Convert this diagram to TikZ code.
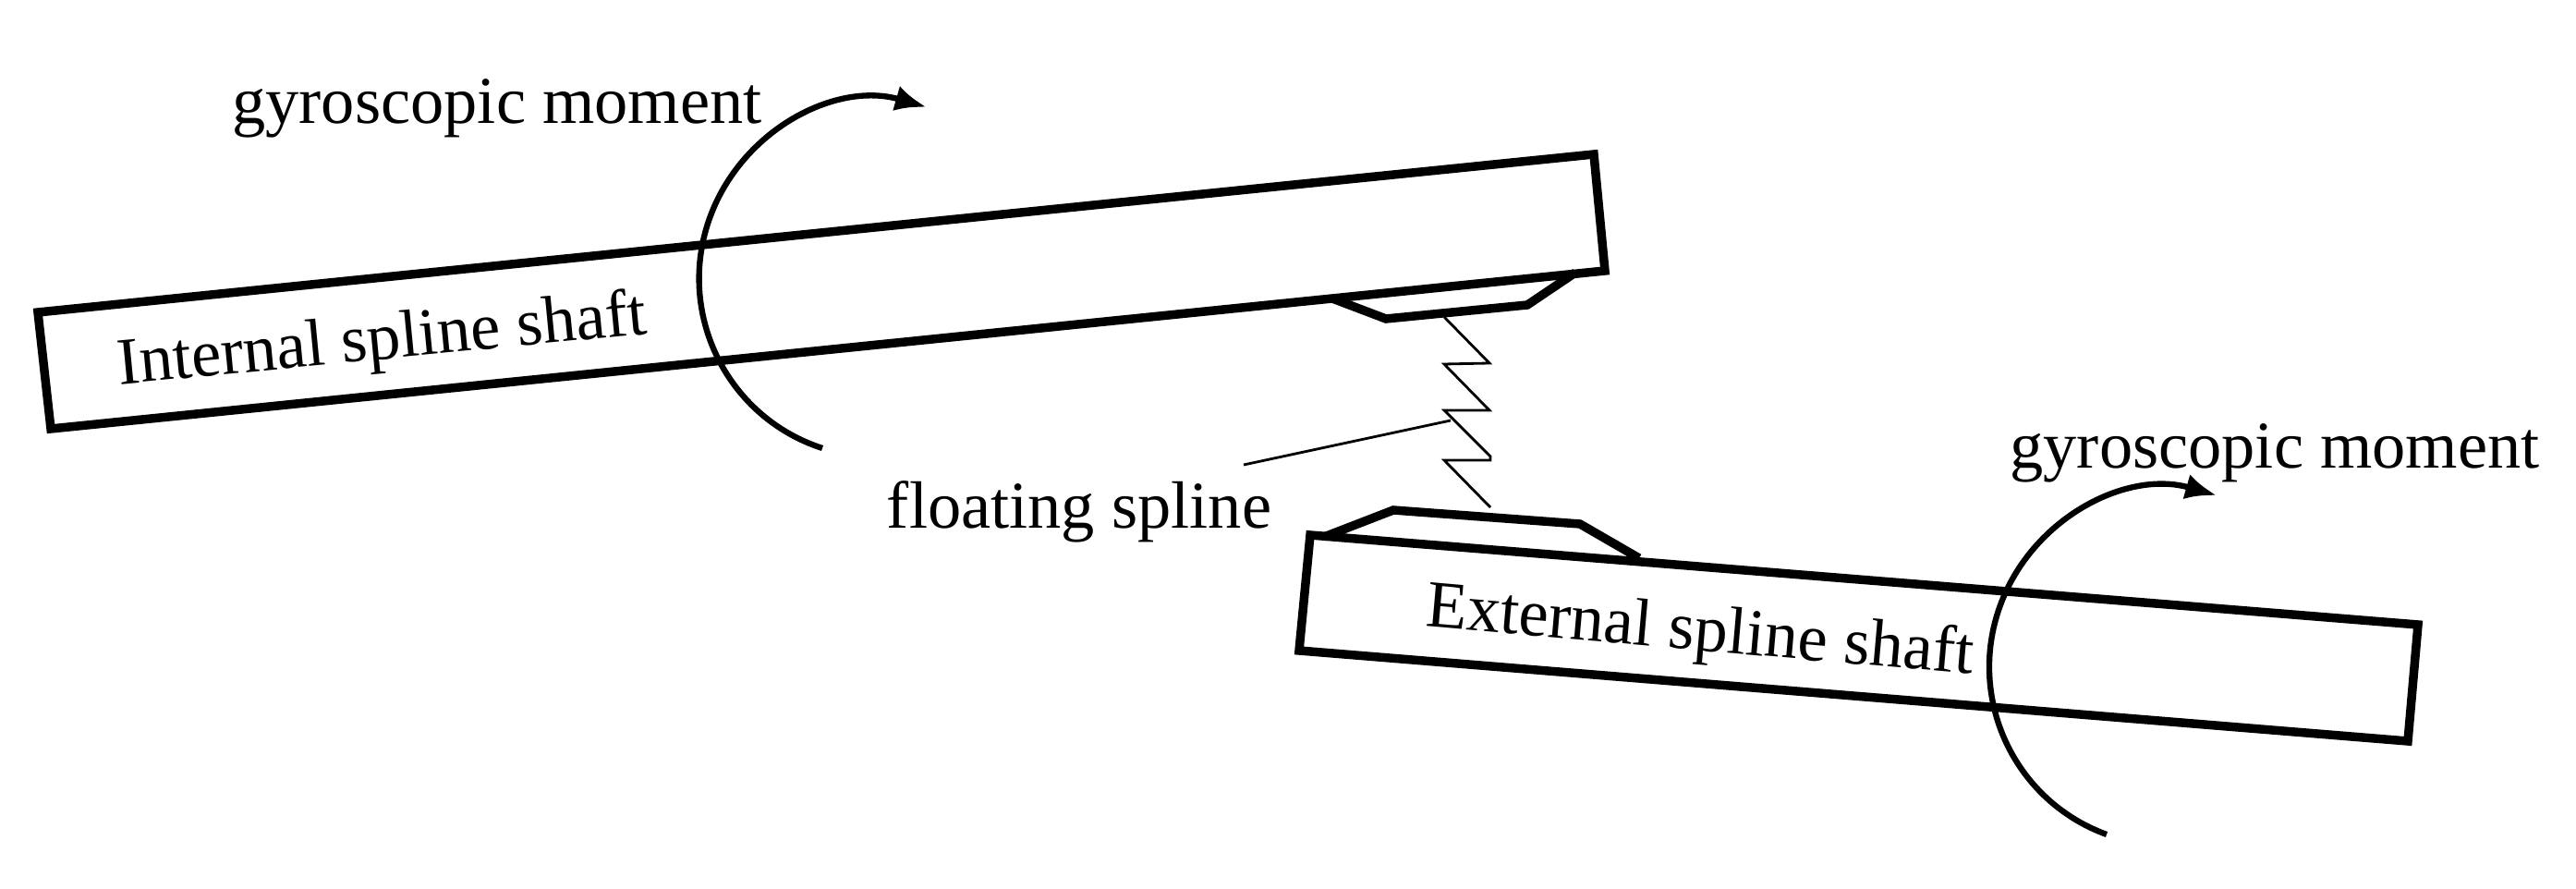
\documentclass[tikz,border=0pt]{standalone}
\usepackage{fontspec}
\setmainfont{Liberation Serif}
\usetikzlibrary{arrows.meta}
\tikzstyle{shaft} = [draw, line width=2.7pt, line join=miter]
\tikzstyle{moment} = [draw, line width=1.8pt, -{Latex[length=3.4mm,width=2.8mm]}]
\tikzstyle{spring} = [draw, line width=0.8pt]
\tikzstyle{caption} = [font=\fontsize{20.6}{24}\selectfont, inner sep=0pt]

\begin{document}
\begin{tikzpicture}
	\useasboundingbox (0,0) rectangle (27.88,9.61);

	% Place points
	\coordinate (inA) at (.41,6.23);
	\coordinate (inB) at (17.25,7.94);
	\coordinate (inC) at (17.37,6.68);
	\coordinate (inD) at (.55,4.97);

	\coordinate (exA) at (14.18,3.82);
	\coordinate (exB) at (26.17,2.85);
	\coordinate (exC) at (26.06,1.59);
	\coordinate (exD) at (14.06,2.57);

	\coordinate (momIn) at (8.9,4.76);
	\coordinate (momEx) at (22.8,.58);

	\coordinate (springTop) at (15.63,6.18);
	\coordinate (springEnd) at (16.13,4.12);
	\coordinate (leadA) at (15.7,5.06);
	\coordinate (leadB) at (13.46,4.58);

	% Place labels
	\node [caption] at (5.38,8.44) (gyroIn) {gyroscopic moment};
	\node [caption] at (24.62,4.71) (gyroEx) {gyroscopic moment};
	\node [caption] at (11.68,4.07) (floating) {floating spline};
	\node [caption, rotate=5.5] at (4.14,5.9) (internal) {Internal spline shaft};
	\node [caption, rotate=-5] at (18.4,2.75) (external) {External spline shaft};

	% Shafts
	\draw[shaft] (inA)--(inB)--(inC)--(inD)--cycle;
	\draw[shaft] (exA)--(exB)--(exC)--(exD)--cycle;

	% Teeth
	\draw[shaft] (14.42,6.38)--(15,6.16)--(16.53,6.31)--(17.05,6.66);
	\draw[shaft] (14.33,3.8)--(15.08,4.09)--(17.1,3.94)--(17.74,3.57);

	% Spring
	\draw[spring] (springTop)--(16.12,5.68)--(15.63,5.67)--(16.12,5.17)--(15.63,5.17)
		--(16.13,4.67)--(16.13,4.63)--(15.63,4.63)--(springEnd);
	\draw[spring] (leadB)--(leadA);

	% Moments
	\draw[moment] (momIn) arc (252:74:1.93);
	\draw[moment] (momEx) arc (250:74:1.93);
\end{tikzpicture}
\end{document}
